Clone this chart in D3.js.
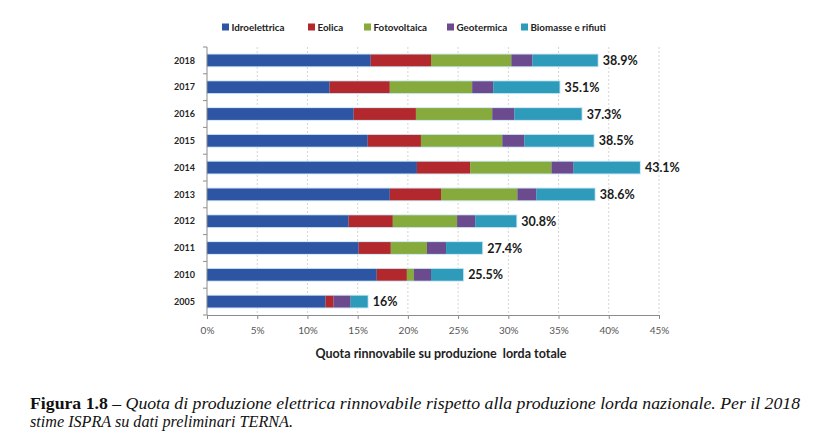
<!DOCTYPE html>
<html>
<head>
<meta charset="utf-8">
<script src="https://cdn.jsdelivr.net/npm/d3@7"></script>
<style>
  body { margin: 0; background: #fff; }
</style>
</head>
<body>
<script>
// data (% of gross production)
var years = ["2018", "2017", "2016", "2015", "2014", "2013", "2012", "2011", "2010", "2005"];
var sources = ["Idroelettrica", "Eolica", "Fotovoltaica", "Geotermica", "Biomasse e rifiuti"];
var idro  = [16.3, 12.2, 14.6, 16.0, 20.9, 18.2, 14.1, 15.1, 16.9, 11.8];
var eolic = [6.0, 6.0, 6.2, 5.3, 5.3, 5.1, 4.4, 3.2, 3.0, 0.8];
var foto  = [8.0, 8.2, 7.6, 8.1, 8.1, 7.6, 6.4, 3.6, 0.7, 0.0];
var geo   = [2.1, 2.1, 2.2, 2.2, 2.2, 1.9, 1.8, 1.9, 1.7, 1.7];
var bio   = [6.5, 6.6, 6.7, 6.9, 6.6, 5.8, 4.1, 3.6, 3.2, 1.7];
var totals = ["38.9%", "35.1%", "37.3%", "38.5%", "43.1%", "38.6%", "30.8%", "27.4%", "25.5%", "16%"];
var xTicks = [0, 5, 10, 15, 20, 25, 30, 35, 40, 45];

var colors = ["#2d55a4", "#b3282c", "#86aa3b", "#6b4a8e", "#2f9bbb"];

var width = 833, height = 441;
var svg = d3.select("body").append("svg")
  .attr("width", width)
  .attr("height", height)
  .style("font-family", "Lato, 'Open Sans', sans-serif");

var margin = {left: 207, right: 174, top: 47, bottom: 126};

var x = d3.scaleLinear().domain([0, 45]).range([margin.left, width - margin.right]);
var y = d3.scaleBand().domain(years).range([margin.top, height - margin.bottom]).paddingInner(0.56).paddingOuter(0.28);

// stacked rows
var rows = years.map(function (yr, i) {
  return {year: yr, Idroelettrica: idro[i], Eolica: eolic[i], Fotovoltaica: foto[i],
          Geotermica: geo[i], "Biomasse e rifiuti": bio[i], label: totals[i]};
});
var stacked = d3.stack().keys(sources)(rows);

// gridlines
svg.append("g")
  .selectAll("line")
  .data(xTicks.slice(1))
  .join("line")
  .attr("x1", d => x(d)).attr("x2", d => x(d))
  .attr("y1", margin.top).attr("y2", height - margin.bottom)
  .attr("stroke", "#d4d4d4")
  .attr("stroke-dasharray", "2,2");

// bar outline glow
svg.append("g")
  .selectAll("rect")
  .data(rows)
  .join("rect")
  .attr("x", x(0) - 0.5)
  .attr("y", d => y(d.year) - 1)
  .attr("width", (d, i) => x(stacked[4][i][1]) - x(0) + 1.5)
  .attr("height", y.bandwidth() + 2)
  .attr("fill", "#cfe9f6");

svg.append("g")
  .selectAll("g")
  .data(stacked)
  .join("g")
  .attr("fill", (d, i) => colors[i])
  .selectAll("rect")
  .data(d => d)
  .join("rect")
  .attr("x", d => x(d[0]))
  .attr("y", d => y(d.data.year))
  .attr("width", d => x(d[1]) - x(d[0]))
  .attr("height", y.bandwidth());

// total labels
svg.append("g")
  .selectAll("text")
  .data(rows)
  .join("text")
  .attr("x", (d, i) => x(stacked[4][i][1]) + 5)
  .attr("y", d => y(d.year) + y.bandwidth() / 2)
  .attr("dy", "0.36em")
  .attr("font-size", 12.5)
  .attr("font-weight", "bold")
  .attr("fill", "#1a1a1a")
  .text(d => d.label);

// y axis
var yAxis = svg.append("g")
  .attr("transform", "translate(" + x(0) + ",0)");
yAxis.append("line")
  .attr("y1", margin.top).attr("y2", height - margin.bottom)
  .attr("stroke", "#8c8c8c");
yAxis.selectAll(".tk")
  .data(d3.range(years.length + 1))
  .join("line")
  .attr("x1", -4).attr("x2", 0)
  .attr("y1", i => margin.top + i * (height - margin.top - margin.bottom) / years.length)
  .attr("y2", i => margin.top + i * (height - margin.top - margin.bottom) / years.length)
  .attr("stroke", "#8c8c8c");
yAxis.selectAll("text")
  .data(years)
  .join("text")
  .attr("x", -12)
  .attr("y", d => y(d) + y.bandwidth() / 2)
  .attr("dy", "0.36em")
  .attr("text-anchor", "end")
  .attr("font-size", 9)
  .attr("font-weight", "bold")
  .attr("fill", "#262626")
  .text(d => d);

// x axis
var xAxis = svg.append("g")
  .attr("transform", "translate(0," + (height - margin.bottom) + ")")
  .call(d3.axisBottom(x).tickValues(xTicks).tickSize(4).tickFormat(d => d + "%"));
xAxis.select(".domain").attr("stroke", "#8c8c8c");
xAxis.selectAll(".tick line").attr("stroke", "#8c8c8c");
xAxis.selectAll(".tick text")
  .attr("y", 12)
  .attr("font-family", "Lato, sans-serif")
  .attr("font-size", 10)
  .attr("fill", "#555");

svg.append("text")
  .attr("x", 441)
  .attr("y", 358)
  .attr("text-anchor", "middle")
  .attr("font-size", 12.5)
  .attr("font-weight", "bold")
  .attr("fill", "#222")
  .attr("xml:space", "preserve")
  .text("Quota rinnovabile su produzione  lorda totale");

// legend
var legendX = [222, 308, 364, 447, 521];
var legend = svg.append("g");
sources.forEach(function (s, i) {
  legend.append("rect")
    .attr("x", legendX[i]).attr("y", 23.5)
    .attr("width", 7).attr("height", 7)
    .attr("fill", colors[i]);
  legend.append("text")
    .attr("x", legendX[i] + 9.5).attr("y", 27)
    .attr("dy", "0.36em")
    .attr("font-size", 9.8)
    .attr("font-weight", "bold")
    .attr("fill", "#222")
    .text(s);
});

// caption
var cap = svg.append("g")
  .style("font-family", "'Liberation Serif', 'DejaVu Serif', serif")
  .attr("font-size", 16.5)
  .attr("fill", "#111");
var line1 = cap.append("text").attr("x", 30).attr("y", 409)
  .attr("textLength", 770).attr("lengthAdjust", "spacingAndGlyphs");
line1.append("tspan").attr("font-weight", "bold").text("Figura 1.8");
line1.append("tspan").attr("font-style", "italic")
  .text(" – Quota di produzione elettrica rinnovabile rispetto alla produzione lorda nazionale. Per il 2018");
cap.append("text").attr("x", 30).attr("y", 427)
  .attr("font-style", "italic")
  .attr("textLength", 263).attr("lengthAdjust", "spacingAndGlyphs")
  .text("stime ISPRA su dati preliminari TERNA.");
</script>
</body>
</html>
